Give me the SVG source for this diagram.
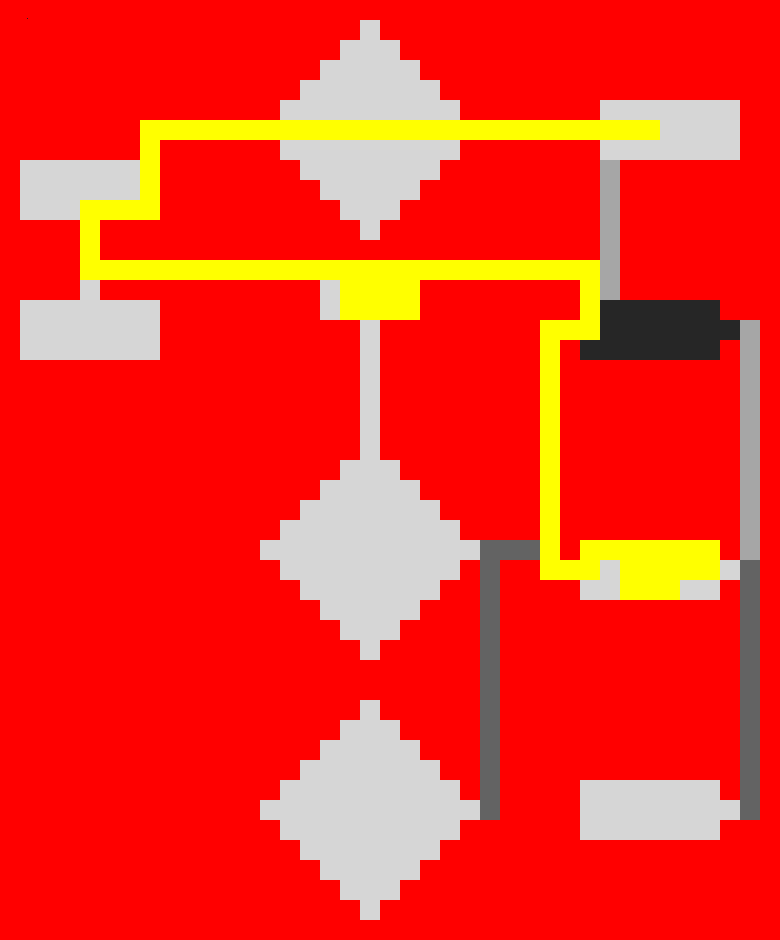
<svg xmlns="http://www.w3.org/2000/svg" width="780" height="940" viewBox="0 0 780 940" shape-rendering="crispEdges">
  <style>
    .node { fill: #d6d6d6; }
    .dark { fill: #262626; }
    .lite { fill: #d6d6d6; }
    .mid { fill: #a6a6a6; }
    .dgray { fill: #636363; }
    .ylw { fill: #ffff00; }
    .ypath { fill: none; stroke: #ffff00; stroke-width: 20; stroke-linejoin: miter; stroke-linecap: butt; }
  </style>
  <defs>
    <path id="diamond" d="M360,0 H380 V20 H400 V40 H420 V60 H440 V80 H460 V100 H480 V120 H460 V140 H440 V160 H420 V180 H400 V200 H380 V220 H360 V200 H340 V180 H320 V160 H300 V140 H280 V120 H260 V100 H280 V80 H300 V60 H320 V40 H340 V20 H360 Z"/>
  </defs>
  <rect x="0" y="0" width="780" height="940" fill="#ff0000"/>
  <rect x="27" y="18" width="1" height="1" fill="#222222"/>

  <g id="node-diamond-1"><use href="#diamond" class="node" y="20"/></g>
  <g id="node-diamond-2"><use href="#diamond" class="node" y="440"/></g>
  <g id="node-diamond-3"><use href="#diamond" class="node" y="700"/></g>
  <g id="node-rect-a"><rect class="node" x="20" y="160" width="140" height="60"/></g>
  <g id="node-rect-b"><rect class="node" x="20" y="300" width="140" height="60"/></g>
  <g id="node-rect-c"><rect class="node" x="600" y="100" width="140" height="60"/></g>
  <g id="node-rect-d"><rect class="node" x="320" y="280" width="100" height="40"/></g>
  <g id="node-rect-e"><rect class="dark" x="580" y="300" width="140" height="60"/></g>
  <g id="node-rect-f"><rect class="node" x="580" y="540" width="140" height="60"/></g>
  <g id="node-rect-g"><rect class="node" x="580" y="780" width="140" height="60"/></g>

  <g id="connectors">
    <rect class="lite" x="80" y="220" width="20" height="80"/>
    <rect class="lite" x="360" y="320" width="20" height="120"/>
    <rect class="lite" x="720" y="560" width="20" height="20"/>
    <rect class="lite" x="720" y="800" width="20" height="20"/>
    <rect class="mid" x="600" y="160" width="20" height="140"/>
    <rect class="dark" x="720" y="320" width="20" height="20"/>
    <rect class="mid" x="740" y="320" width="20" height="240"/>
    <rect class="dgray" x="740" y="560" width="20" height="260"/>
    <rect class="dgray" x="480" y="540" width="70" height="20"/>
    <rect class="dgray" x="480" y="540" width="20" height="280"/>
    <path class="ypath" d="M660,130 H150 V210 H90 V270 H590 V330 H550 V570 H600"/>
    <rect class="ylw" x="340" y="280" width="80" height="40"/>
    <rect class="ylw" x="580" y="540" width="140" height="20"/>
    <rect class="ylw" x="620" y="560" width="100" height="20"/>
    <rect class="ylw" x="620" y="580" width="60" height="20"/>
  </g>
</svg>
